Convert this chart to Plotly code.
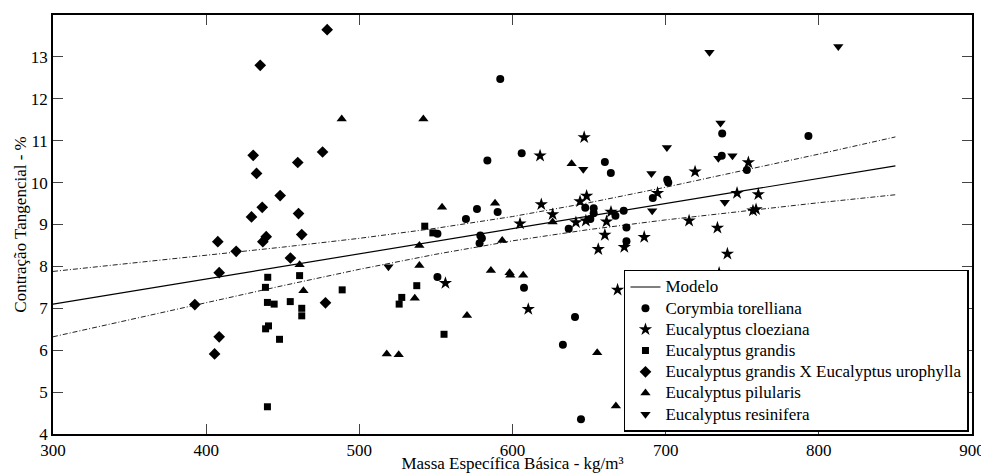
import plotly.graph_objects as go

# ---------------- data ----------------
cory_x = [583.6, 592, 606, 660.3, 664.2, 576.8, 569.6, 590.3, 551, 579, 580, 578.5, 551, 607.5,
          640.8, 632.9, 644.7, 636.7, 647.5, 653, 653, 650.8, 667.2, 672.6, 674.4, 674.4, 691.6,
          701.7, 701, 736.6, 736.9, 753, 793.2]
cory_y = [10.53, 12.47, 10.7, 10.49, 10.23, 9.37, 9.13, 9.3, 8.78, 8.74, 8.67, 8.55, 7.75, 7.49,
          6.79, 6.13, 4.35, 8.9, 9.4, 9.39, 9.27, 9.13, 9.21, 9.33, 8.93, 8.6, 9.63,
          10.0, 10.07, 10.64, 11.17, 10.3, 11.11]

cloe_x = [556.2, 610.3, 618, 646.8, 618.8, 626.2, 604.9, 641.4, 644.1, 648.4, 664.3, 647.9, 661.4,
          660.3, 656, 673, 686, 668.6, 694.7, 715.3, 719.2, 733.8, 734.9, 740.3, 746.6, 760.5,
          757, 759, 754]
cloe_y = [7.6, 6.98, 10.64, 11.08, 9.48, 9.24, 9.02, 9.05, 9.55, 9.68, 9.3, 9.09, 9.07,
          8.75, 8.41, 8.46, 8.7, 7.44, 9.75, 9.09, 10.26, 8.92, 7.84, 8.3, 9.75, 9.72,
          9.33, 9.36, 10.48]

gran_x = [542.7, 548, 440.2, 461, 438.7, 537.5, 488.8, 440, 444.4, 454.9, 462.4, 462.4, 527.7,
          526, 440.7, 438.8, 447.9, 555.3, 440]
gran_y = [8.96, 8.8, 7.74, 7.78, 7.5, 7.54, 7.44, 7.14, 7.1, 7.16, 7.0, 6.82, 7.26,
          7.1, 6.58, 6.51, 6.26, 6.38, 4.65]

gxu_x = [479, 435.3, 430.7, 476, 459.8, 432.9, 448.3, 436.6, 429.6, 460.3, 439.2, 437, 462.4,
         455, 477.9, 407.6, 419.6, 408.5, 392.6, 408.5, 405.5]
gxu_y = [13.65, 12.8, 10.65, 10.73, 10.48, 10.22, 9.69, 9.41, 9.18, 9.26, 8.71, 8.59, 8.76,
         8.2, 7.13, 8.59, 8.36, 7.85, 7.09, 6.32, 5.91]

pilu_x = [488.5, 541.8, 554, 588.6, 638.6, 626.2, 593.3, 539.2, 461, 463.5, 539.2, 536.2, 570.3,
          517.9, 525.7, 585.9, 598.1, 598.6, 607, 655.3, 667.5]
pilu_y = [11.52, 11.52, 9.41, 9.51, 10.45, 9.06, 8.62, 8.5, 8.04, 7.42, 8.02, 7.24, 6.83,
          5.91, 5.89, 7.9, 7.85, 7.79, 7.79, 5.94, 4.67]

resi_x = [519, 646.2, 690.7, 700.8, 691.2, 728.6, 735.8, 734.4, 743.6, 738.6, 812.7]
resi_y = [7.99, 10.32, 10.22, 10.84, 9.33, 13.11, 11.42, 10.58, 10.64, 9.53, 13.25]

model_x = [300, 350, 400, 450, 500, 550, 600, 650, 700, 750, 800, 850]
model_y = [7.10, 7.40, 7.70, 8.00, 8.30, 8.60, 8.90, 9.20, 9.50, 9.80, 10.10, 10.40]
upper_y = [7.88, 8.07, 8.26, 8.46, 8.67, 8.91, 9.19, 9.52, 9.89, 10.28, 10.68, 11.09]
lower_y = [6.32, 6.73, 7.14, 7.54, 7.93, 8.29, 8.61, 8.88, 9.11, 9.32, 9.52, 9.71]

x_ticks = [300, 400, 500, 600, 700, 800, 900]
y_ticks = [4, 5, 6, 7, 8, 9, 10, 11, 12, 13, 14]

FONT = "Liberation Serif"
FS = 17


def leg(name):
    # legend row spacing follows the legend font size (14); text is drawn at 17px
    return f'<span style="font-size:{FS}px">{name}</span>'


fig = go.Figure()

band_dash = "5px,2px,1px,2px"
fig.add_trace(go.Scatter(x=model_x, y=upper_y, mode="lines", showlegend=False,
                         line=dict(color="#222", width=1, dash=band_dash), hoverinfo="skip"))
fig.add_trace(go.Scatter(x=model_x, y=lower_y, mode="lines", showlegend=False,
                         line=dict(color="#222", width=1, dash=band_dash), hoverinfo="skip"))
fig.add_trace(go.Scatter(x=model_x, y=model_y, mode="lines", name=leg("Modelo"),
                         line=dict(color="black", width=1.2)))

series = [
    ("Corymbia torelliana", cory_x, cory_y, "circle", 8),
    ("Eucalyptus cloeziana", cloe_x, cloe_y, "star", 10),
    ("Eucalyptus grandis", gran_x, gran_y, "square", 7),
    ("Eucalyptus grandis X Eucalyptus urophylla", gxu_x, gxu_y, "diamond", 9),
    ("Eucalyptus pilularis", pilu_x, pilu_y, "triangle-up", 9),
    ("Eucalyptus resinifera", resi_x, resi_y, "triangle-down", 9),
]
for name, xs, ys, sym, sz in series:
    fig.add_trace(go.Scatter(x=xs, y=ys, mode="markers", name=leg(name),
                             marker=dict(symbol=sym, size=sz, color="black",
                                         line=dict(width=0))))

axis_common = dict(showline=True, linecolor="black", linewidth=1.5, mirror="ticks",
                   ticks="inside", ticklen=10, tickwidth=1, tickcolor="#444",
                   showgrid=False, zeroline=False, automargin=False,
                   tickfont=dict(family=FONT, size=FS, color="black"))

fig.update_layout(
    width=981, height=465,
    margin=dict(l=45, r=17, t=7, b=39),
    paper_bgcolor="white", plot_bgcolor="white",
    font=dict(family=FONT, size=FS, color="black"),
    xaxis=dict(range=[300, 900], tickvals=x_ticks, ticktext=[str(v) for v in x_ticks],
               title=dict(text="Massa Específica Básica - kg/m³", font=dict(family=FONT, size=FS),
                          standoff=0),
               **axis_common),
    yaxis=dict(range=[4, 14], tickvals=y_ticks, ticktext=[str(v) for v in y_ticks],
               title=dict(text="Contração Tangencial - %", font=dict(family=FONT, size=FS),
                          standoff=0),
               **axis_common),
    legend=dict(x=0.9967, y=0.005, xanchor="right", yanchor="bottom",
                bgcolor="white", bordercolor="black", borderwidth=1.5,
                font=dict(family=FONT, size=14, color="black"),
                tracegroupgap=0, itemwidth=30),
    showlegend=True,
)

fig.write_html("out.html")
